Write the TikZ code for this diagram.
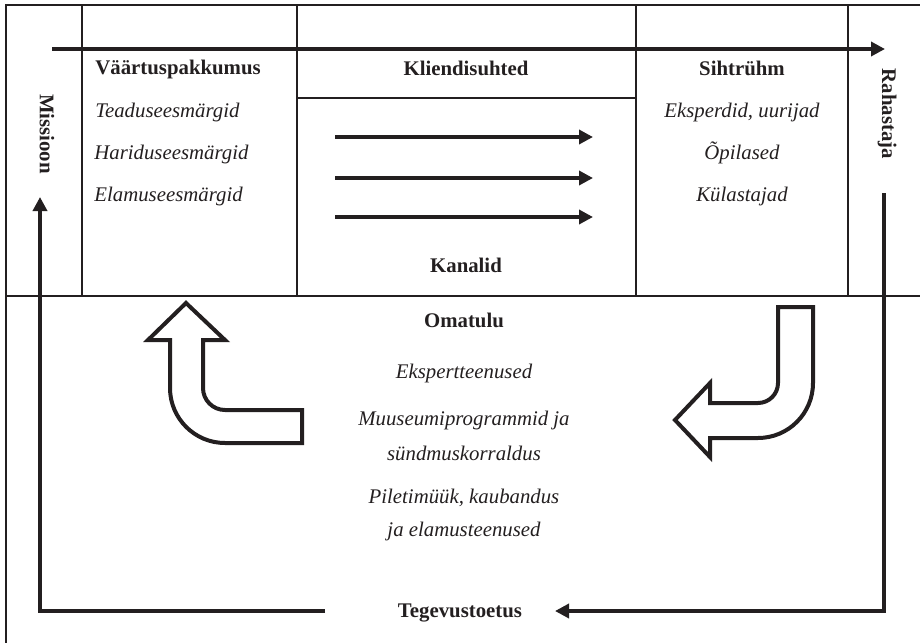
\documentclass[tikz,border=0pt]{standalone}
\usepackage{fontspec}
\setmainfont{Liberation Serif}
\usetikzlibrary{arrows.meta, positioning}
\definecolor{ink}{RGB}{35,31,32}
\tikzstyle{head} = [font=\fontsize{10.4}{12}\selectfont\bfseries, text=ink, inner sep=0pt, anchor=base]
\tikzstyle{item} = [font=\fontsize{10.4}{12}\selectfont\itshape, text=ink, inner sep=0pt, anchor=base]
\tikzstyle{grid} = [line width=1.2pt, draw=ink]
\tikzstyle{flow} = [line width=2.4pt, draw=ink, -{Triangle[length=7pt,width=7pt]}]
\tikzstyle{hollow} = [line width=2pt, draw=ink, line join=miter]

\begin{document}
\begin{tikzpicture}[x=0.5pt, y=-0.5pt]
\useasboundingbox (0,0) rectangle (920,643);

% frame of the canvas
\draw [grid] (920,5) -- (6,5) -- (6,643);
\draw [grid] (6,296) -- (920,296);
\draw [grid] (82,5) -- (82,296);
\draw [grid] (297,5) -- (297,296);
\draw [grid] (636,5) -- (636,296);
\draw [grid] (848,5) -- (848,296);
\draw [grid] (297,98) -- (636,98);

% side labels
\node [head, rotate=-90, anchor=center] (missioon) at (47,134) {Missioon};
\node [head, rotate=-90, anchor=center] (rahastaja) at (887,114) {Rahastaja};

% value proposition
\node [head, anchor=base west] (vp) at (95,74) {Väärtuspakkumus};
\node [item, anchor=base west] (vp1) at (95,117) {Teaduseesmärgid};
\node [item, anchor=base west] (vp2) at (94,159) {Hariduseesmärgid};
\node [item, anchor=base west] (vp3) at (94,201) {Elamuseesmärgid};

% relations and channels
\node [head] (ks) at (466,75) {Kliendisuhted};
\node [head] (kan) at (466,272) {Kanalid};

% target group
\node [head] (siht) at (742,75) {Sihtrühm};
\node [item, below=21pt of siht.base, anchor=base] (siht1) {Eksperdid, uurijad};
\node [item, below=21pt of siht1.base, anchor=base] (siht2) {Õpilased};
\node [item, below=21pt of siht2.base, anchor=base] (siht3) {Külastajad};

% own income
\node [head] (oma) at (464,327) {Omatulu};
\node [item, below=25.5pt of oma.base, anchor=base] (oma1) {Ekspertteenused};
\node [item, below=23.5pt of oma1.base, anchor=base] (oma2) {Muuseumiprogrammid ja};
\node [item, below=17.5pt of oma2.base, anchor=base] (oma3) {sündmuskorraldus};
\node [item, below=21.5pt of oma3.base, anchor=base] (oma4) {Piletimüük, kaubandus};
\node [item, below=16.5pt of oma4.base, anchor=base] (oma5) {ja elamusteenused};
\node [head] (toetus) at (460,617) {Tegevustoetus};

% arrows
\coordinate (topl) at (52,49);
\coordinate (topr) at (885,49);
\draw [flow] (topl) -- (topr);

\coordinate (k1a) at (335,137);
\coordinate (k1b) at (593,137);
\coordinate (k2a) at (335,178);
\coordinate (k2b) at (593,178);
\coordinate (k3a) at (335,217);
\coordinate (k3b) at (593,217);
\draw [flow] (k1a) -- (k1b);
\draw [flow] (k2a) -- (k2b);
\draw [flow] (k3a) -- (k3b);

\coordinate (rahout) at (884,193);
\coordinate (toetin) at (555,611);
\coordinate (toetout) at (325,611);
\coordinate (misin) at (40,197);
\draw [flow] (rahout) |- (toetin);
\draw [flow] (toetout) -| (misin);

% hollow turn arrows
\draw [hollow] (186,303) -- (225,340) -- (203,340) -- (203,388)
  arc [start angle=180, end angle=270, radius=11pt] -- (302,410) -- (302,443) -- (225,443)
  arc [start angle=270, end angle=180, radius=27.5pt] -- (170,340) -- (148,340) -- cycle;
\draw [hollow] (778,307) -- (813,307) -- (813,383)
  arc [start angle=0, end angle=-90, radius=27.5pt] -- (710,438) -- (710,457) -- (675,420)
  -- (710,383) -- (710,403) -- (758,403)
  arc [start angle=-90, end angle=0, radius=10pt] -- cycle;
\end{tikzpicture}
\end{document}
